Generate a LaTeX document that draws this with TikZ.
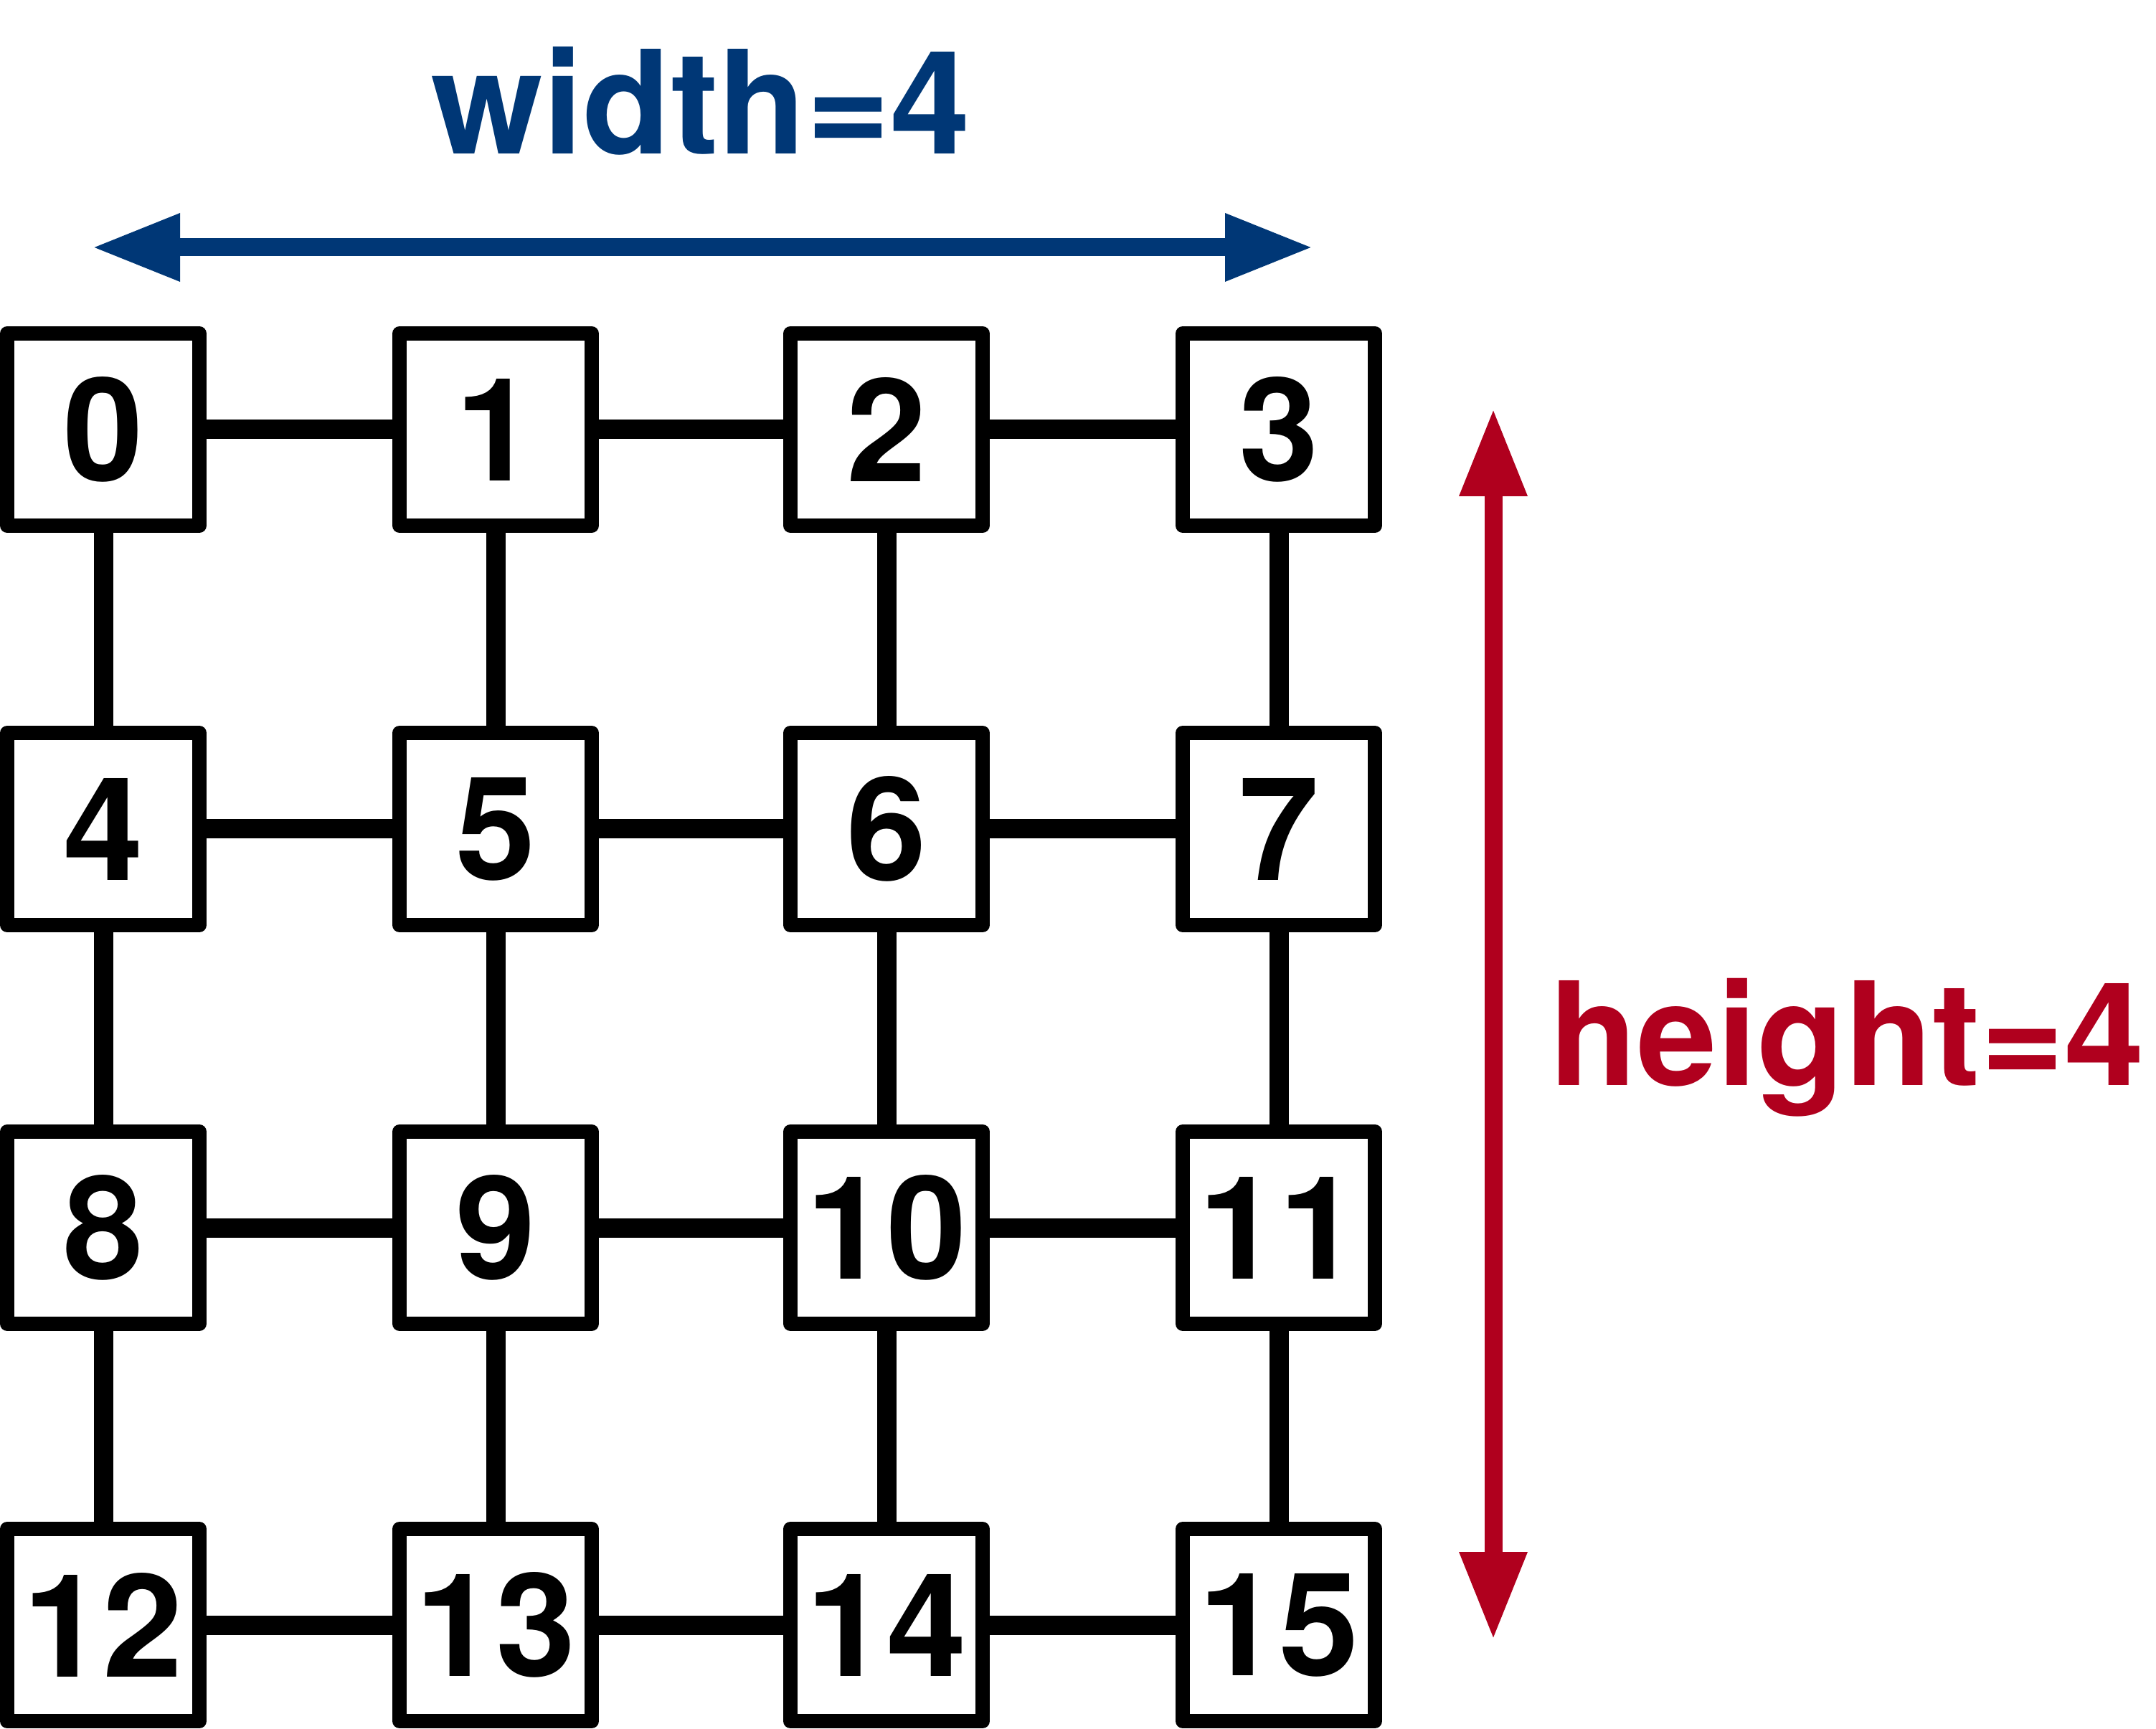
\documentclass[tikz,border=0pt]{standalone}
\usepackage{fontspec}
\setmainfont{TeX Gyre Heros}
\usetikzlibrary{arrows.meta}

\definecolor{widthblue}{RGB}{0,55,118}
\definecolor{heightred}{RGB}{176,0,30}

\begin{document}
\begin{tikzpicture}[
            cell/.style={draw, rectangle, line width=0.20cm, line join=round, minimum size=2.68cm, inner sep=0pt, font=\fontsize{57}{60}\selectfont\bfseries},
            link/.style={line width=0.27cm},
            dim/.style={line width=0.25cm, {Triangle[length=1.23cm,width=0.88cm]}-{Triangle[length=1.23cm,width=0.88cm]}},
            lbl/.style={anchor=base, inner sep=0pt, font=\fontsize{57}{60}\selectfont\bfseries}
        ]
        \useasboundingbox (0,0) rectangle (30.06,24.10);

        % grid of cells
        \foreach \r/\y in {0/18.11, 1/12.54, 2/6.98, 3/1.44} {
            \foreach \c/\x in {0/1.44, 1/6.91, 2/12.36, 3/17.83} {
                \pgfmathtruncatemacro{\n}{4*\r+\c}
                \node[cell] (c\n) at (\x,\y) {\n};
            }
        }

        % links
        \foreach \r in {0,...,3} {
            \foreach \c in {0,1,2} {
                \pgfmathtruncatemacro{\a}{4*\r+\c}
                \pgfmathtruncatemacro{\b}{\a+1}
                \draw[link] (c\a) -- (c\b);
            }
        }
        \foreach \a in {0,...,11} {
            \pgfmathtruncatemacro{\b}{\a+4}
            \draw[link] (c\a) -- (c\b);
        }

        % dimensions
        \coordinate (wl) at (1.28,20.65);
        \coordinate (wr) at (18.31,20.65);
        \coordinate (ht) at (20.82,18.41);
        \coordinate (hb) at (20.82,1.23);

        \draw[dim, widthblue] (wl) -- (wr);
        \draw[dim, heightred] (ht) -- (hb);

        \node[lbl, text=widthblue] (wlabel) at (9.77,21.95) {width=4};
        \node[lbl, text=heightred] (hlabel) at (25.75,8.96) {height=4};
    \end{tikzpicture}
\end{document}
